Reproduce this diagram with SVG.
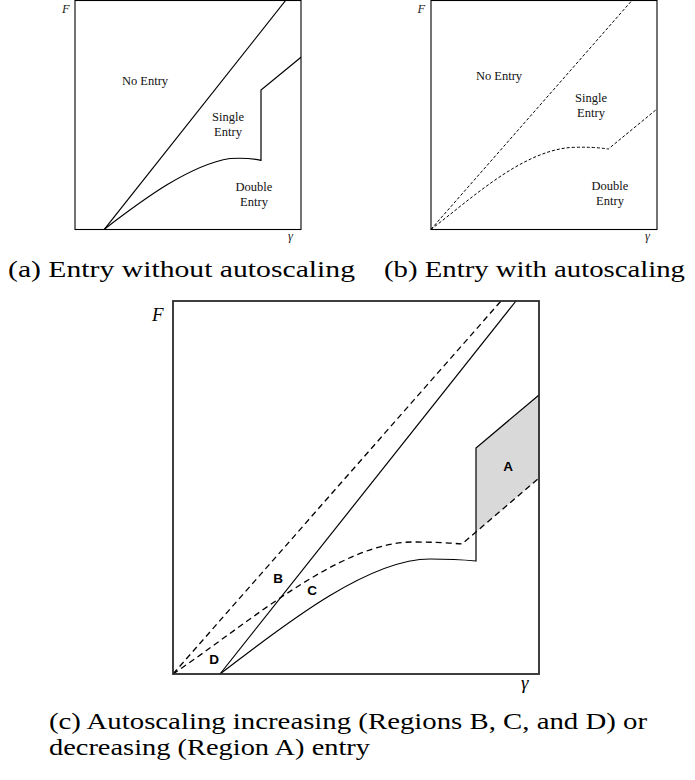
<svg xmlns="http://www.w3.org/2000/svg" width="695" height="780" viewBox="0 0 695 780">
<style>
.frame{fill:none;stroke:#000;stroke-width:1.1}
.frame2{fill:none;stroke:#2a2a2a;stroke-width:1.8}
.solid{fill:none;stroke:#000;stroke-width:1.2}
.dash1{fill:none;stroke:#000;stroke-width:1;stroke-dasharray:3 2}
.dash2{fill:none;stroke:#000;stroke-width:1.3;stroke-dasharray:6 4}
.lbl{font-family:"Liberation Serif","Times New Roman",serif;font-size:12.5px;fill:#111;text-anchor:middle}
.ax{font-family:"Liberation Serif","Times New Roman",serif;font-style:italic;font-size:12.5px;fill:#222}
.ax2{font-family:"Liberation Serif","Times New Roman",serif;font-style:italic;font-size:19px;fill:#000}
.reg{font-family:"Liberation Sans",Arial,sans-serif;font-weight:bold;font-size:13.5px;fill:#000;text-anchor:middle}
.cap{font-family:"Liberation Serif","Times New Roman",serif;font-size:23px;fill:#000}
</style>

<g id="panel-a">
  <rect class="frame" x="75" y="0.5" width="226" height="229"/>
  <path class="solid" d="M104.3,229.3 L286,0"/>
  <path class="solid" d="M104.3,229.3 C145,198 190,165 230,158.5 Q248,157.5 261,160.3 L261,90 L301,57.3"/>
  <text class="lbl" x="145" y="85">No Entry</text>
  <text class="lbl" x="228" y="121">Single</text>
  <text class="lbl" x="228" y="136">Entry</text>
  <text class="lbl" x="254" y="191">Double</text>
  <text class="lbl" x="254" y="206">Entry</text>
  <text class="ax" x="62" y="12.5">F</text>
  <text class="ax" x="288" y="240">γ</text>
</g>

<g id="panel-b">
  <rect class="frame" x="431" y="0.5" width="226" height="229"/>
  <path class="dash1" d="M431,229.3 L632.3,0"/>
  <path class="dash1" d="M431,229.3 C470,200 520,152 570,147.5 Q592,146.5 608.3,149 L657,109"/>
  <text class="lbl" x="499" y="80">No Entry</text>
  <text class="lbl" x="591" y="102">Single</text>
  <text class="lbl" x="591" y="117">Entry</text>
  <text class="lbl" x="610" y="190">Double</text>
  <text class="lbl" x="610" y="205">Entry</text>
  <text class="ax" x="417.5" y="12.5">F</text>
  <text class="ax" x="645" y="240">γ</text>
</g>

<g id="panel-c">
  <polygon id="region-A" points="476,448 539,395 539,478 476,532" fill="#d9d9d9" stroke="none"/>
  <g id="connectors">
    <path class="dash2" d="M173,674 L501,301"/>
    <path class="solid" d="M220,674 L516,301"/>
    <path class="solid" d="M220,674 C290,620 370,559 430,559 Q455,559 476,561 L476,448 L539,395"/>
    <path class="dash2" d="M173,674 C250,622 340,542 413,542 Q440,542 462,544 L539,478"/>
  </g>
  <rect class="frame2" x="173" y="301" width="366" height="373"/>
  <text class="reg" x="508" y="471">A</text>
  <text class="reg" x="278" y="583">B</text>
  <text class="reg" x="312" y="594.5">C</text>
  <text class="reg" x="214" y="664">D</text>
  <text class="ax2" x="152" y="321">F</text>
  <text class="ax2" x="521" y="689">γ</text>
</g>

<g id="captions">
  <text class="cap" x="8" y="277" textLength="347" lengthAdjust="spacingAndGlyphs">(a) Entry without autoscaling</text>
  <text class="cap" x="384" y="277" textLength="301" lengthAdjust="spacingAndGlyphs">(b) Entry with autoscaling</text>
  <text class="cap" x="49" y="729" textLength="598" lengthAdjust="spacingAndGlyphs">(c) Autoscaling increasing (Regions B, C, and D) or</text>
  <text class="cap" x="49" y="755" textLength="321" lengthAdjust="spacingAndGlyphs">decreasing (Region A) entry</text>
</g>
</svg>
